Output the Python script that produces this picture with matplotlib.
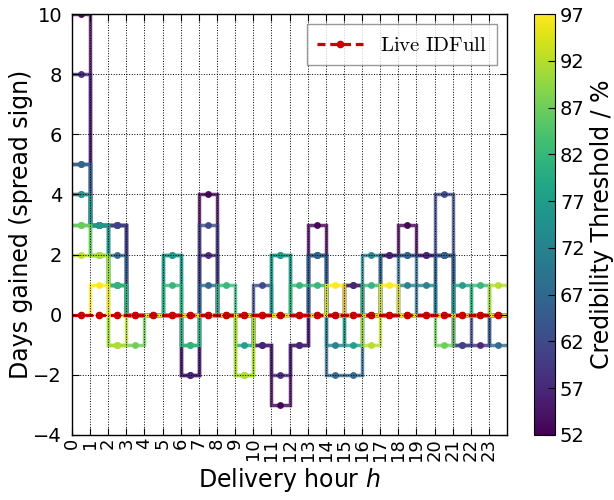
import numpy as np
import matplotlib
matplotlib.use('Agg')
import matplotlib.pyplot as plt
from matplotlib.lines import Line2D

# credibility thresholds (%) and days gained per delivery hour
thresholds = [52, 57, 62, 67, 72, 77, 82, 87, 92, 97]
hours = list(range(24))

gain_52 = [10, 3, 3, 0, 0, 0, -2, 4, 0, 0, -1, -3, -1, 3, 0, 1, 0, 2, 3, 2, 2, 0, 0, 0]
gain_57 = [8, 3, 3, 0, 0, 0, -2, 2, 0, 0, -1, -2, -1, 2, 0, 1, 0, 2, 2, 2, 2, -1, -1, 0]
gain_62 = [5, 3, 3, 0, 0, 0, 0, 3, 0, 0, 1, 0, 0, 2, 0, 0, 0, 0, 0, 0, 4, -1, 0, 0]
gain_67 = [5, 3, 2, 0, 0, 0, 0, 1, 0, 0, 0, 0, 0, 2, -2, -2, 0, 0, 2, 0, 2, 0, 0, -1]
gain_72 = [4, 3, 1, 0, 0, 2, 0, 0, 0, 0, 0, 2, 0, 0, -1, 0, 2, 0, 1, 1, 0, 0, 0, 0]
gain_77 = [4, 3, 1, 0, 0, 2, -1, 0, 0, -1, 0, 2, 0, 0, 0, -1, 0, 0, 0, 0, 0, 1, 0, 0]
gain_82 = [3, 2, 1, 0, 0, 1, -1, 0, 1, 0, 0, 0, 1, 1, 0, 0, 1, 0, 0, 0, 0, 0, 1, 0]
gain_87 = [3, 2, -1, -1, 0, 0, 0, 0, 0, -2, 0, 0, 0, 0, 0, 0, 0, 0, 0, 0, -1, 0, 0, 0]
gain_92 = [2, 2, -1, 0, 0, 0, 0, 0, 0, -2, 0, 0, 0, 0, 0, 0, -1, 0, 0, 0, 0, 0, 0, 1]
gain_97 = [0, 1, 0, 0, 0, 0, 0, 0, 0, 0, 0, 0, 0, 0, 1, 0, 0, 1, 0, 0, 0, 0, 0, 0]
live_idfull = [0] * 24

gains = [gain_52, gain_57, gain_62, gain_67, gain_72,
         gain_77, gain_82, gain_87, gain_92, gain_97]

edges = np.arange(len(hours) + 1)
centers = np.array(hours) + 0.5

fig = plt.figure(figsize=(6.14, 5.0), dpi=100)
ax = fig.add_axes([0.117, 0.13, 0.709, 0.842])
cax = fig.add_axes([0.870, 0.13, 0.034, 0.842])

cmap = plt.get_cmap('viridis')
norm = matplotlib.colors.Normalize(vmin=min(thresholds), vmax=max(thresholds))

for t, g in zip(thresholds, gains):
    c = cmap(norm(t))
    ax.stairs(g, edges, baseline=None, color=c, lw=2.5, alpha=0.8)
    ax.plot(centers, g, 'o', color=c, ms=4, mec=c, alpha=0.9)

# live IDFull reference
red = '#cc0000'
dash = (0, (2.5, 1.5))
ax.stairs(live_idfull, edges, baseline=None, color=red, lw=2.3, ls=dash)
ax.plot(centers, live_idfull, 'o', color=red, ms=4.5, mec=red)
handle = Line2D([], [], color=red, lw=2.3, ls=dash, marker='o', ms=4.5)
leg = ax.legend([handle], [r'$\mathrm{Live\ IDFull}$'], loc='upper right',
                numpoints=1, prop=dict(size=15, math_fontfamily='cm'),
                fancybox=False, borderpad=0.5, handlelength=2.2)
leg.get_frame().set_edgecolor('0.5')
leg.get_frame().set_linewidth(1.0)

ax.set_xlim(0, 24)
ax.set_ylim(-4, 10)
ax.set_xticks(hours)
ax.set_xticklabels([str(h) for h in hours], rotation=90, fontsize=13)
ax.set_yticks(range(-4, 11, 2))
ax.tick_params(direction='in', top=True, right=True, length=5, pad=2)
ax.tick_params(axis='y', labelsize=14, pad=7)
ax.grid(True, color='k', ls=':', lw=0.7)
ax.set_axisbelow(False)
for s in ax.spines.values():
    s.set_linewidth(1.0)

ax.set_xlabel('Delivery hour $h$', fontsize=17, labelpad=4)
ax.set_ylabel('Days gained (spread sign)', fontsize=17, labelpad=0)

sm = matplotlib.cm.ScalarMappable(norm=norm, cmap=cmap)
cb = fig.colorbar(sm, cax=cax, ticks=thresholds)
cb.ax.tick_params(labelsize=14, direction='in', length=5)
cb.set_label('Credibility Threshold / %', fontsize=17)

fig.savefig('out.png', dpi=100)
